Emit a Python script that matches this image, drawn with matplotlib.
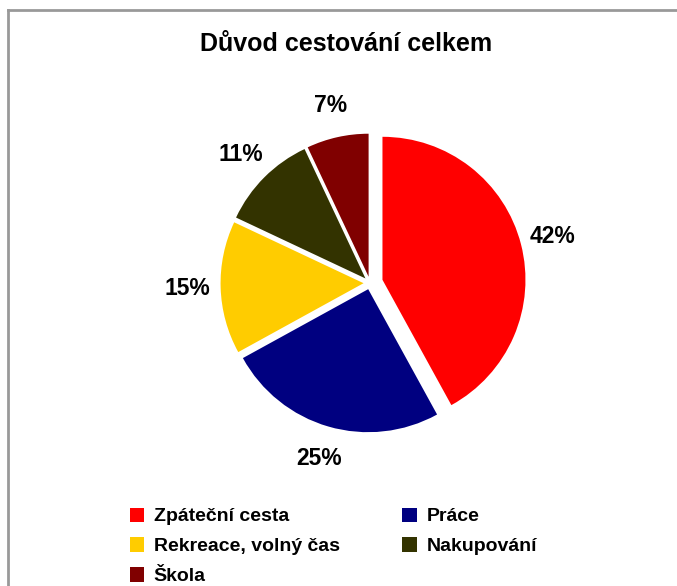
import matplotlib
matplotlib.use("Agg")
import matplotlib.pyplot as plt
from matplotlib.lines import Line2D
from matplotlib.patches import Patch

plt.rcParams['font.family'] = ['Liberation Sans', 'DejaVu Sans']

# data
categories = ["Zpáteční cesta", "Práce", "Rekreace, volný čas", "Nakupování", "Škola"]
shares = [42, 25, 15, 11, 7]
colors = ["#FF0000", "#000080", "#FFCC00", "#333300", "#800000"]
explode = [0.09, 0.045, 0.045, 0.045, 0.045]

W, H = 677, 586
fig = plt.figure(figsize=(W / 100, H / 100), dpi=100)

# pie axes placed in pixel terms: center (371, 283), radius 143 px
cx, cy, r, half = 370, 283, 143, 210
ax = fig.add_axes([(cx - half) / W, (H - cy - half) / H, 2 * half / W, 2 * half / H])
wedges, texts, autotexts = ax.pie(
    shares, colors=colors, explode=explode, startangle=90, counterclock=False,
    autopct='%1.0f%%', pctdistance=1.23,
    wedgeprops=dict(linewidth=0),
    textprops=dict(fontsize=16.5, fontweight='bold', color='black'),
)
ax.set_xlim(-half / r, half / r)
ax.set_ylim(-half / r, half / r)
ax.set_aspect('equal')
ax.axis('off')

fig.text(346 / W, 1 - 44 / H, "Důvod cestování celkem", ha='center', va='center',
         fontsize=18, fontweight='bold')

# legend, filled row by row like the original
order = [0, 2, 4, 1, 3]
handles = [Patch(facecolor=colors[i], edgecolor='none') for i in order]
labels = [categories[i] for i in order]
fig.legend(handles, labels, ncol=2, loc='upper left',
           bbox_to_anchor=(112 / W, 1 - 490 / H), frameon=False,
           prop=dict(size=14, weight='bold'), handlelength=0.75, handleheight=0.75,
           handletextpad=0.5, labelspacing=0.62, columnspacing=3.2)

# grey frame (top and left edges visible)
fig.add_artist(Line2D([8 / W, 8 / W], [0, 1 - 10 / H], color='#999999', lw=2))
fig.add_artist(Line2D([8 / W, 1], [1 - 10 / H, 1 - 10 / H], color='#999999', lw=2))

fig.savefig("out.png", dpi=100)
